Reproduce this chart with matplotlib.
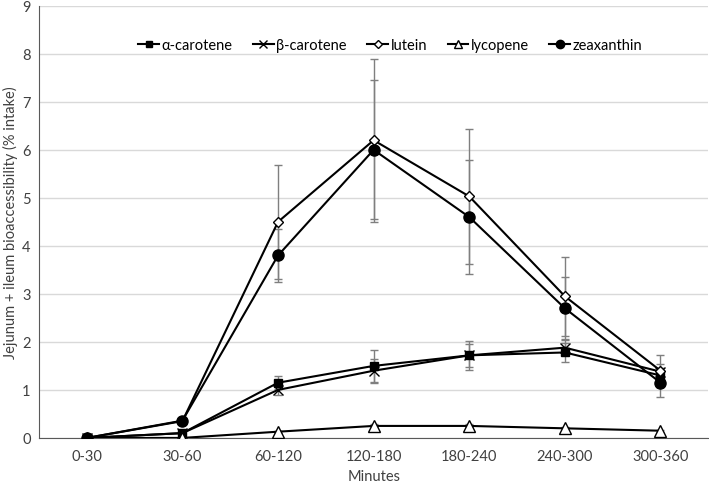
import numpy as np
import matplotlib.pyplot as plt

plt.rcParams['font.family'] = ['Lato', 'DejaVu Sans']

########### Data ###########
minutes = ['0-30', '30-60', '60-120', '120-180', '180-240', '240-300', '300-360']

alpha_car = [0, 0.10, 1.15, 1.50, 1.72, 1.78, 1.30]
alpha_err = [0, 0.02, 0.14, 0.33, 0.30, 0.20, 0.15]

beta_car = [0, 0.10, 1.00, 1.40, 1.72, 1.88, 1.38]
beta_err = [0, 0.02, 0.10, 0.25, 0.24, 0.15, 0.15]

lutein = [0, 0.35, 4.50, 6.20, 5.03, 2.95, 1.40]
lutein_err = [0, 0.03, 1.18, 1.70, 1.40, 0.82, 0.33]

lycopene = [0, 0, 0.13, 0.25, 0.25, 0.20, 0.15]
lycopene_err = [0, 0, 0.02, 0.03, 0.03, 0.03, 0.02]

zeaxanthin = [0, 0.36, 3.80, 6.00, 4.60, 2.70, 1.15]
zeax_err = [0, 0.03, 0.55, 1.45, 1.18, 0.65, 0.30]

series = [
    ('α-carotene', alpha_car, alpha_err, dict(marker='s', mfc='black', ms=6)),
    ('β-carotene', beta_car, beta_err, dict(marker='x', mfc='white', ms=7, mew=1.0)),
    ('lutein', lutein, lutein_err, dict(marker='D', mfc='white', ms=5.5)),
    ('lycopene', lycopene, lycopene_err, dict(marker='^', mfc='white', ms=8)),
    ('zeaxanthin', zeaxanthin, zeax_err, dict(marker='o', mfc='black', ms=8)),
]

########### Plot ###########
fig = plt.figure(figsize=(7.09, 4.85), dpi=100)
ax = fig.add_axes([0.055, 0.095, 0.944, 0.891])

x = np.arange(len(minutes))
for name, vals, err, style in series:
    ax.errorbar(x, vals, yerr=err, fmt='none', ecolor='#7f7f7f', elinewidth=1.0,
                capsize=3, capthick=1.0, zorder=2)
    ax.plot(x, vals, color='black', lw=1.5, mec='black', label=name, zorder=3, **style)

ax.set_xlim(-0.5, len(minutes) - 0.5)
ax.set_ylim(0, 9)
ax.set_yticks(np.arange(0, 10, 1))
ax.set_xticks(x)
ax.set_xticklabels(minutes)
ax.grid(axis='y', color='#d9d9d9', lw=1.0)
ax.set_axisbelow(True)

for s in ['top', 'right']:
    ax.spines[s].set_visible(False)
ax.spines['left'].set_color('#595959')
ax.spines['bottom'].set_color('#595959')
ax.tick_params(length=0, labelsize=10.5, colors='#404040')
ax.tick_params(axis='x', pad=8)
ax.tick_params(axis='y', pad=6)

ax.set_xlabel('Minutes', fontsize=10.5, color='#404040', labelpad=4)
ax.set_ylabel('Jejunum + ileum bioaccessibility (% intake)', fontsize=10.5, color='#404040', labelpad=3)

ax.legend(loc='center', bbox_to_anchor=(0.525, 0.91), ncol=5, frameon=False,
          fontsize=10.5, handlelength=1.4, handletextpad=0.2, columnspacing=1.4,
          markerscale=0.75)

plt.savefig('out.png', dpi=100)
plt.close()
